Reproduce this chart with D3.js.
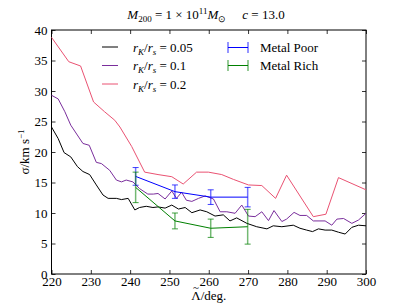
<!DOCTYPE html>
<html>
<head>
<meta charset="utf-8">
<script src="https://cdn.jsdelivr.net/npm/d3@7"></script>
<style>
  body { margin: 0; background: #fff; }
</style>
</head>
<body>
<div id="chart"></div>
<script>
// data
var lam005 = [220, 221.7, 223.2, 224.9, 226.6, 228, 229.7, 231.4, 233.1, 234.4, 236.5, 237.8, 239.5, 241.2, 242.4, 244.1, 245.8, 247.1, 248.9, 250.6, 252.3, 254, 255.7, 257.8, 259.5, 261.6, 263.7, 265.4, 267.1, 269.7, 272.2, 274.8, 276.4, 278.6, 281.5, 283.2, 284.9, 286.4, 287.9, 289.6, 291.3, 293, 294.7, 296.4, 298.1, 300];
var sig005 = [24.1, 22.2, 19.9, 19.2, 17.6, 16.8, 16.3, 14.6, 12.95, 12.4, 12.4, 12.2, 12.4, 10.5, 10.9, 11.1, 10.9, 11.0, 10.8, 11.3, 10.65, 10.9, 10.05, 10.5, 10.2, 9.5, 9.7, 8.7, 9.2, 8.3, 7.75, 7.4, 7.9, 7.75, 8.0, 7.5, 7.2, 6.95, 7.4, 7.2, 7.2, 6.85, 6.55, 7.65, 8.0, 7.9];

var lam01 = [220, 221.7, 223.4, 224.9, 228, 229.6, 231.4, 232.7, 234.8, 236.5, 237.8, 239, 240.7, 242.4, 244.5, 245.9, 247.1, 248.9, 250.6, 251.8, 253.1, 254.3, 255.7, 257.4, 259.1, 261.2, 262.9, 264.6, 266.7, 268.4, 270.1, 271.8, 273.5, 275.2, 276.6, 278.6, 279.8, 281.7, 283.2, 284.9, 286.6, 289.6, 291.3, 292.6, 294.3, 296.4, 298.1, 300];
var sig01 = [29.3, 28.7, 26.6, 24.4, 21.4, 21.1, 18.3, 18.1, 17.0, 15.4, 15.1, 15.4, 15.1, 14.0, 13.1, 13.1, 13.2, 12.3, 13.6, 12.4, 13.4, 12.1, 11.9, 12.4, 12.8, 12.3, 10.2, 10.2, 9.95, 11.3, 9.5, 9.4, 10.2, 8.75, 10.4, 8.6, 9.0, 10.1, 9.6, 9.6, 8.7, 8.7, 8.0, 9.0, 9.1, 8.3, 8.85, 9.95];

var lam02 = [220, 224.4, 227.4, 230.7, 233.5, 236.1, 237.4, 240.4, 243.7, 247.1, 250.6, 253.5, 256.9, 259.9, 263.3, 266.3, 270.1, 273.5, 277, 279.8, 286.6, 289.8, 293, 300];
var sig02 = [38.8, 34.8, 34.1, 28.2, 26.6, 25.2, 24.1, 20.9, 16.7, 16.3, 15.95, 14.75, 16.7, 16.7, 16.3, 15.5, 14.6, 14.5, 12.4, 16.2, 9.4, 9.8, 15.8, 13.8];

var lamPoor = [241.4, 251.4, 260.5, 269.9];
var sigPoor = [16.0, 13.5, 12.6, 12.6];
var errPoor = [1.45, 1.1, 1.2, 1.6];

var lamRich = [241.4, 251.4, 260.5, 269.9];
var sigRich = [14.2, 8.7, 7.5, 7.75];
var errRich = [2.5, 1.3, 1.5, 2.85];

var xTicks = [220, 230, 240, 250, 260, 270, 280, 290, 300];
var yTicks = [0, 5, 10, 15, 20, 25, 30, 35, 40];

var lineNames = ["0.05", "0.1", "0.2"];
var lineColors = ["#000000", "#7a2e9c", "#ea5272"];
var barNames = ["Metal Poor", "Metal Rich"];
var barColors = ["#0000ff", "#008000"];

var serif = "Liberation Serif";

var svgWidth = 407, svgHeight = 305;
var margin = {top: 30, right: 41, bottom: 31, left: 51.5};
var width = svgWidth - margin.left - margin.right;
var height = svgHeight - margin.top - margin.bottom;

var svg = d3.select("#chart").append("svg")
  .attr("width", svgWidth)
  .attr("height", svgHeight)
  .attr("font-family", serif);

var g = svg.append("g")
  .attr("transform", `translate(${margin.left}, ${margin.top})`);

var x = d3.scaleLinear().domain([220, 300]).range([0, width]);
var y = d3.scaleLinear().domain([0, 40]).range([height, 0]);

// axes, ticks pointing inwards on all four sides
function styleAxis(sel) {
  sel.attr("font-family", serif);
  sel.select(".domain").remove();
  sel.selectAll("line").attr("stroke", "#000").attr("stroke-width", 0.8);
  sel.selectAll("text").attr("font-size", 13).attr("fill", "#000");
}

g.append("g").attr("transform", `translate(0, ${height})`)
  .call(d3.axisBottom(x).tickValues(xTicks).tickFormat(d3.format("d")).tickSizeInner(-4).tickPadding(3))
  .call(styleAxis);
g.append("g")
  .call(d3.axisTop(x).tickValues(xTicks).tickFormat("").tickSizeInner(-4))
  .call(styleAxis);
g.append("g")
  .call(d3.axisLeft(y).tickValues(yTicks).tickFormat(d3.format("d")).tickSizeInner(-4).tickPadding(4))
  .call(styleAxis);
g.append("g").attr("transform", `translate(${width}, 0)`)
  .call(d3.axisRight(y).tickValues(yTicks).tickFormat("").tickSizeInner(-4))
  .call(styleAxis);

g.append("rect")
  .attr("width", width).attr("height", height)
  .attr("fill", "none").attr("stroke", "#000").attr("stroke-width", 1);

// model lines
var line = d3.line().x(d => x(d[0])).y(d => y(d[1]));
var series = [
  d3.zip(lam005, sig005),
  d3.zip(lam01, sig01),
  d3.zip(lam02, sig02)
];
series.forEach(function(s, i) {
  g.append("path").datum(s)
    .attr("d", line)
    .attr("fill", "none")
    .attr("stroke", lineColors[i])
    .attr("stroke-width", 1);
});

// error bars
var bars = [
  {lam: lamPoor, sig: sigPoor, err: errPoor},
  {lam: lamRich, sig: sigRich, err: errRich}
];
bars.forEach(function(b, i) {
  var pts = b.lam.map((l, j) => [l, b.sig[j], b.err[j]]);
  var eg = g.append("g");
  eg.selectAll(null).data(pts).enter().append("line")
    .attr("x1", d => x(d[0])).attr("x2", d => x(d[0]))
    .attr("y1", d => y(d[1] - d[2])).attr("y2", d => y(d[1] + d[2]))
    .attr("stroke", barColors[i]).attr("stroke-opacity", 0.55).attr("stroke-width", 1.5);
  [-1, 1].forEach(function(sgn) {
    eg.selectAll(null).data(pts).enter().append("line")
      .attr("x1", d => x(d[0]) - 3).attr("x2", d => x(d[0]) + 3)
      .attr("y1", d => y(d[1] + sgn * d[2])).attr("y2", d => y(d[1] + sgn * d[2]))
      .attr("stroke", barColors[i]).attr("stroke-opacity", 0.75).attr("stroke-width", 1);
  });
  eg.append("path").datum(pts)
    .attr("d", line)
    .attr("fill", "none")
    .attr("stroke", barColors[i])
    .attr("stroke-width", 1);
});

// title
var title = svg.append("text")
  .attr("x", 206).attr("y", 19)
  .attr("text-anchor", "middle")
  .attr("font-size", 13);
title.append("tspan").attr("font-style", "italic").text("M");
title.append("tspan").attr("dy", 3).attr("font-size", 9).text("200");
title.append("tspan").attr("dy", -3).text(" = 1 × 10");
title.append("tspan").attr("dy", -5).attr("font-size", 9).text("11");
title.append("tspan").attr("dy", 5).attr("font-style", "italic").text("M");
title.append("tspan").attr("dy", 3).attr("font-size", 9).text("⊙");
title.append("tspan").attr("dy", -3).attr("dx", 16).attr("font-style", "italic").text("c");
title.append("tspan").text(" = 13.0");

// x label with a tilde over the lambda
var xlab = svg.append("text")
  .attr("x", margin.left + width / 2).attr("y", 300)
  .attr("text-anchor", "middle")
  .attr("font-size", 13)
  .text("Λ/deg.");
var node = xlab.node();
var p0 = node.getStartPositionOfChar(0);
var w0 = node.getSubStringLength(0, 1);
svg.append("text")
  .attr("x", p0.x + w0 / 2).attr("y", 291)
  .attr("text-anchor", "middle")
  .attr("font-size", 11)
  .text("~");

var ylab = svg.append("text")
  .attr("transform", `translate(29, ${margin.top + height / 2}) rotate(-90)`)
  .attr("text-anchor", "middle")
  .attr("font-size", 13);
ylab.append("tspan").text("σ/km s");
ylab.append("tspan").attr("dy", -5).attr("font-size", 9).text("−1");

// legend, left column
var legRows = [47, 65.5, 84];
lineNames.forEach(function(name, i) {
  svg.append("line")
    .attr("x1", 102).attr("x2", 118)
    .attr("y1", legRows[i]).attr("y2", legRows[i])
    .attr("stroke", lineColors[i]).attr("stroke-width", 1);
  var t = svg.append("text").attr("x", 133).attr("y", legRows[i] + 4.5).attr("font-size", 13);
  t.append("tspan").attr("font-style", "italic").text("r");
  t.append("tspan").attr("dy", 3).attr("font-size", 9).attr("font-style", "italic").text("K");
  t.append("tspan").attr("dy", -3).text("/");
  t.append("tspan").attr("font-style", "italic").text("r");
  t.append("tspan").attr("dy", 3).attr("font-size", 9).attr("font-style", "italic").text("s");
  t.append("tspan").attr("dy", -3).text(" = " + name);
});

// legend, right column
var barRows = [47.5, 65.5];
barNames.forEach(function(name, i) {
  var yy = barRows[i];
  svg.append("line").attr("x1", 228).attr("x2", 248).attr("y1", yy).attr("y2", yy)
    .attr("stroke", barColors[i]).attr("stroke-width", 1);
  [228, 248].forEach(function(xx) {
    svg.append("line").attr("x1", xx).attr("x2", xx).attr("y1", yy - 5.5).attr("y2", yy + 5.5)
      .attr("stroke", barColors[i]).attr("stroke-opacity", 0.55).attr("stroke-width", 1.5);
  });
  svg.append("text").attr("x", 260).attr("y", yy + 4.5).attr("font-size", 13).text(name);
});
</script>
</body>
</html>
